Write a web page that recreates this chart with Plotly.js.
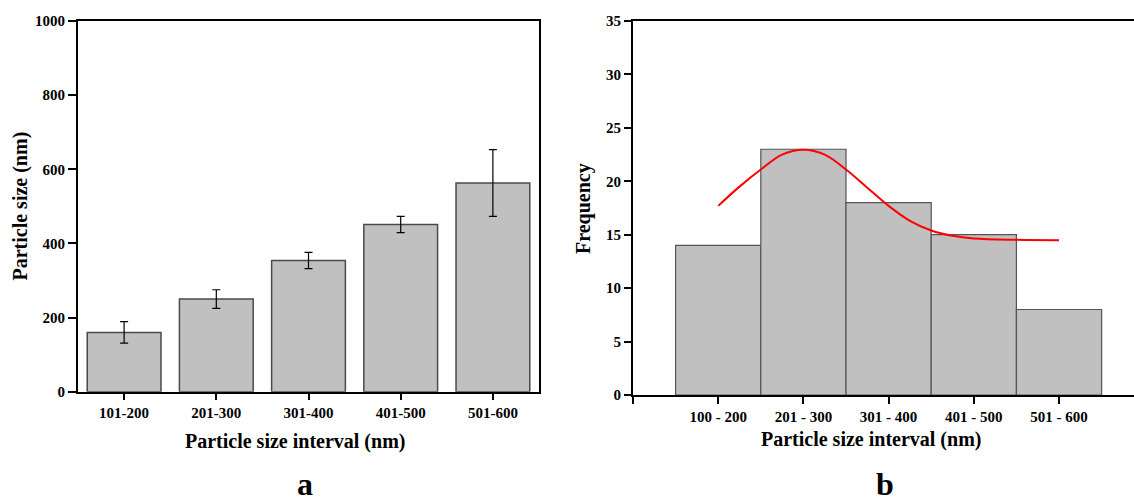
<!DOCTYPE html>
<html>
<head>
<meta charset="utf-8">
<script src="https://cdn.plot.ly/plotly-3.0.1.min.js"></script>
<style>
  html, body { margin: 0; padding: 0; background: #ffffff; }
  #chart { width: 1134px; height: 504px; }
</style>
</head>
<body>
<div id="chart"></div>
<script>
// Panel a: mean particle size per size interval, with standard deviation
const sizeIntervals = ['101-200', '201-300', '301-400', '401-500', '501-600'];
const meanSize = [160, 250, 354, 451, 563];
const sizeError = [29, 25, 22, 22, 90];

// Panel b: frequency histogram of particle sizes
const freqIntervals = ['100 - 200', '201 - 300', '301 - 400', '401 - 500', '501 - 600'];
const binCenters = [150, 250, 350, 450, 550];
const frequency = [14, 23, 18, 15, 8];

// Panel b: fitted distribution curve (nm, frequency)
const fitX = [150, 175, 200, 225, 250, 275, 300, 325, 350, 375, 400, 425, 450, 500, 550];
const fitY = [17.7, 19.5, 21.1, 22.5, 22.95, 22.5, 21.1, 19.4, 17.7, 16.3, 15.4, 14.9, 14.65, 14.52, 14.48];

const FONT = 'Liberation Serif, Times New Roman, serif';
const tickFont = { family: FONT, size: 15, color: '#000', weight: 'bold' };

const traces = [
  {
    type: 'bar',
    x: sizeIntervals.map((_, i) => i),
    y: meanSize,
    width: 0.8,
    marker: { color: '#c0c0c0', line: { color: '#4a4a4a', width: 1.5 } },
    error_y: { type: 'data', array: sizeError, visible: true, color: '#000', thickness: 1.2, width: 4 },
    xaxis: 'x', yaxis: 'y',
    hoverinfo: 'skip'
  },
  {
    type: 'bar',
    x: binCenters,
    y: frequency,
    width: 100,
    marker: { color: '#c0c0c0', line: { color: '#555555', width: 1.2 } },
    xaxis: 'x2', yaxis: 'y2',
    hoverinfo: 'skip'
  },
  {
    type: 'scatter',
    mode: 'lines',
    x: fitX,
    y: fitY,
    line: { color: '#ff0000', width: 2, shape: 'spline', smoothing: 1 },
    xaxis: 'x2', yaxis: 'y2',
    hoverinfo: 'skip'
  }
];

const axisCommon = {
  showline: true, linecolor: '#000', linewidth: 2,
  ticks: 'outside', tickcolor: '#000', tickwidth: 2,
  showgrid: false, zeroline: false, tickfont: tickFont, fixedrange: true
};

const layout = {
  width: 1134, height: 504,
  margin: { l: 0, r: 0, t: 0, b: 0 },
  paper_bgcolor: '#fff', plot_bgcolor: '#fff',
  showlegend: false,
  bargap: 0,
  font: { family: FONT, color: '#000', weight: 'bold' },
  xaxis: Object.assign({}, axisCommon, {
    domain: [0.0688, 0.4753], range: [-0.5, 4.5], mirror: true,
    tickvals: sizeIntervals.map((_, i) => i), ticktext: sizeIntervals, ticklen: 6,
    anchor: 'y'
  }),
  yaxis: Object.assign({}, axisCommon, {
    domain: [0.2228, 0.9583], range: [0, 1000], mirror: true,
    tickvals: [0, 200, 400, 600, 800, 1000], ticklen: 8,
    anchor: 'x'
  }),
  xaxis2: Object.assign({}, axisCommon, {
    domain: [0.5582, 1], range: [50, 638], mirror: true,
    tickvals: [50].concat(binCenters), ticktext: [''].concat(freqIntervals), ticklen: 7,
    anchor: 'y2'
  }),
  yaxis2: Object.assign({}, axisCommon, {
    domain: [0.2163, 0.9583], range: [0, 35], mirror: false,
    tickvals: [0, 5, 10, 15, 20, 25, 30, 35], ticklen: 7,
    anchor: 'x2'
  }),
  annotations: [
    { text: 'Particle size interval (nm)', xref: 'paper', yref: 'paper', x: 0.2601, y: 0.125,
      showarrow: false, xanchor: 'center', yanchor: 'middle',
      font: { family: FONT, size: 20, color: '#000', weight: 'bold' } },
    { text: 'Particle size (nm)', xref: 'paper', yref: 'paper', x: 0.0181, y: 0.5913,
      showarrow: false, textangle: -90, xanchor: 'center', yanchor: 'middle',
      font: { family: FONT, size: 20, color: '#000', weight: 'bold' } },
    { text: 'Particle size interval (nm)', xref: 'paper', yref: 'paper', x: 0.7677, y: 0.127,
      showarrow: false, xanchor: 'center', yanchor: 'middle',
      font: { family: FONT, size: 20, color: '#000', weight: 'bold' } },
    { text: 'Frequency', xref: 'paper', yref: 'paper', x: 0.514, y: 0.587,
      showarrow: false, textangle: -90, xanchor: 'center', yanchor: 'middle',
      font: { family: FONT, size: 20, color: '#000', weight: 'bold' } },
    { text: 'a', xref: 'paper', yref: 'paper', x: 0.269, y: 0.0,
      showarrow: false, xanchor: 'center', yanchor: 'bottom',
      font: { family: FONT, size: 32, color: '#000', weight: 'bold' } },
    { text: 'b', xref: 'paper', yref: 'paper', x: 0.780, y: 0.0,
      showarrow: false, xanchor: 'center', yanchor: 'bottom',
      font: { family: FONT, size: 32, color: '#000', weight: 'bold' } }
  ]
};

Plotly.newPlot('chart', traces, layout, { staticPlot: true, displayModeBar: false });
</script>
</body>
</html>
